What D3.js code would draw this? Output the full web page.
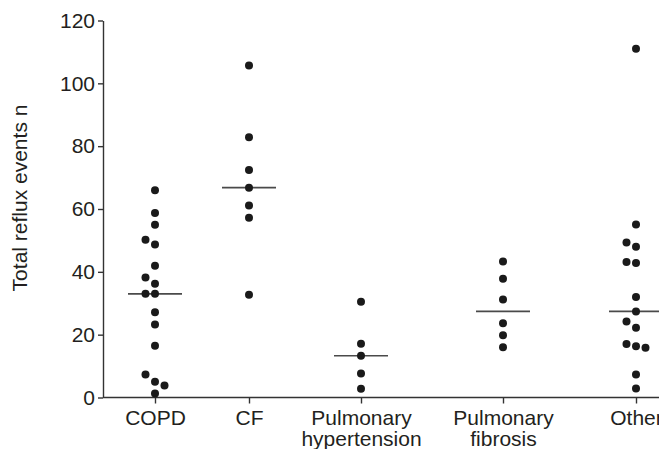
<!DOCTYPE html>
<html>
<head>
<meta charset="utf-8">
<script src="https://cdn.jsdelivr.net/npm/d3@7"></script>
<style>
  body { margin: 0; background: #fff; }
  text { font-family: "Liberation Sans", Arial, sans-serif; fill: #231f20; }
</style>
</head>
<body>
<svg width="659" height="449"></svg>
<script>
// data
var categories = ["COPD", "CF", "Pulmonary hypertension", "Pulmonary fibrosis", "Other"];
var copd = [66, 58.7, 55, 50.2, 48.7, 41.9, 38.2, 36.2, 33, 33, 27.1, 23.2, 16.5, 7.3, 5, 3.8, 1.3];
var cf = [105.7, 82.8, 72.4, 66.8, 61.1, 57.2, 32.7];
var pulmHypertension = [30.5, 17.1, 13.3, 7.6, 2.8];
var pulmFibrosis = [43.3, 37.8, 31.2, 23.6, 19.8, 16];
var other = [111, 55.1, 49.3, 48, 43.1, 42.8, 32, 27.4, 24.2, 22.2, 17, 16.3, 15.8, 7.3, 2.9];
var yTicks = [0, 20, 40, 60, 80, 100, 120];

var groups = [copd, cf, pulmHypertension, pulmFibrosis, other];

var svg = d3.select("svg"),
  plotLeft = 103,
  plotBottom = 397.5,
  plotTop = 20.5,
  fontSize = 21,
  r = 4,
  step = 9.5;

var yScale = d3.scaleLinear().domain([0, 120]).range([plotBottom, plotTop]);
// category centres are not evenly spaced in the original
var xScale = d3.scaleOrdinal().domain(categories).range([155, 249, 361, 503, 636]);

// y axis
svg.append("g")
  .attr("transform", "translate(" + plotLeft + ",0)")
  .call(d3.axisLeft(yScale).tickValues(yTicks).tickSize(5).tickPadding(3).tickSizeOuter(0))
  .call(function (g) {
    g.selectAll("path, line").attr("stroke", "#333").attr("stroke-width", 1.4);
    g.selectAll("text").attr("font-size", fontSize).attr("fill", "#231f20").attr("font-family", null);
  });

// x axis
var xAxis = svg.append("g")
  .attr("transform", "translate(0," + plotBottom + ")")
  .call(d3.axisBottom(xScale).tickSize(6).tickSizeOuter(0).tickFormat(""));
xAxis.select(".domain").remove();
xAxis.selectAll("line").attr("stroke", "#333").attr("stroke-width", 1.4);
xAxis.append("line")
  .attr("x1", plotLeft)
  .attr("x2", 700)
  .attr("stroke", "#333")
  .attr("stroke-width", 1.4);

xAxis.selectAll(".tick").each(function (d) {
  var t = d3.select(this).append("text")
    .attr("text-anchor", "middle")
    .attr("font-size", fontSize)
    .attr("y", 27.5);
  d.split(" ").forEach(function (w, i) {
    t.append("tspan").attr("x", 0).attr("dy", i === 0 ? 0 : 21).text(w);
  });
});

// y title
svg.append("text")
  .attr("transform", "translate(27,198) rotate(-90)")
  .attr("text-anchor", "middle")
  .attr("font-size", fontSize)
  .text("Total reflux events n");

// dots that would touch are grouped and spread left -> centre -> right
function swarm(values) {
  var sorted = values.slice().sort(function (a, b) { return b - a; });
  var clusters = [];
  sorted.forEach(function (v, i) {
    if (i > 0 && yScale(v) - yScale(sorted[i - 1]) < 9) {
      clusters[clusters.length - 1].push(v);
    } else {
      clusters.push([v]);
    }
  });
  var placed = [];
  clusters.forEach(function (c) {
    var inCluster = [];
    c.forEach(function (v, i) {
      var y = yScale(v), slot;
      if (c.length === 1) slot = 0;
      else if (i < 3) slot = i - 1;
      else {
        slot = [0, -1, 1].find(function (s) {
          return !inCluster.some(function (p) { return p.slot === s && Math.abs(p.y - y) < 9; });
        });
      }
      var p = { value: v, y: y, slot: slot };
      inCluster.push(p);
      placed.push(p);
    });
  });
  return placed;
}

var g = svg.append("g");

groups.forEach(function (vals, i) {
  var cx = xScale(categories[i]);
  var med = d3.median(vals);

  g.append("line")
    .attr("x1", cx - 27)
    .attr("x2", cx + 27)
    .attr("y1", yScale(med))
    .attr("y2", yScale(med))
    .attr("stroke", "#4a4a4a")
    .attr("stroke-width", 1.6);

  g.selectAll(".dot" + i)
    .data(swarm(vals))
    .enter()
    .append("circle")
    .attr("class", "dot" + i)
    .attr("cx", function (d) { return cx + d.slot * step; })
    .attr("cy", function (d) { return d.y; })
    .attr("r", r)
    .attr("fill", "#1a1a1a");
});
</script>
</body>
</html>
